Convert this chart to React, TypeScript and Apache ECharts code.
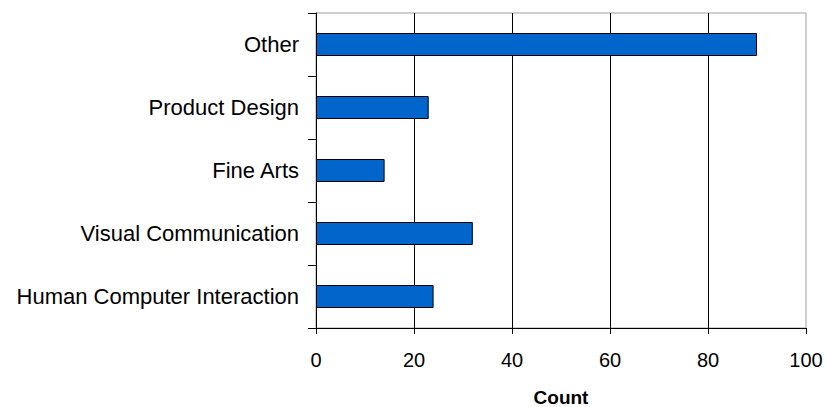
import React, { useEffect, useRef } from "react";
import * as echarts from "echarts";

const categories = [
  "Human Computer Interaction",
  "Visual Communication",
  "Fine Arts",
  "Product Design",
  "Other",
];
const counts = [24, 32, 14, 23, 90];
const xTicks = [0, 20, 40, 60, 80, 100];

export default function App() {
  const ref = useRef<HTMLDivElement>(null);
  useEffect(() => {
    if (!ref.current) return;
    const chart = echarts.init(ref.current, null, { renderer: "svg" });
    const font = "'Liberation Sans', Arial, sans-serif";
    chart.setOption({
      animation: false,
      backgroundColor: "#ffffff",
      grid: {
        left: 316,
        top: 13,
        right: 21,
        bottom: 79,
        show: true,
        borderColor: "#a0a0a0",
        borderWidth: 1,
        backgroundColor: "transparent",
        containLabel: false,
        outerBoundsMode: "none",
      },
      xAxis: {
        type: "value",
        min: xTicks[0],
        max: xTicks[xTicks.length - 1],
        interval: 20,
        name: "Count",
        nameLocation: "middle",
        nameGap: 60,
        nameTextStyle: {
          fontFamily: font,
          fontSize: 19,
          fontWeight: "bold",
          color: "#000",
        },
        axisLine: { show: true, lineStyle: { color: "#000", width: 1 } },
        axisTick: { show: true, length: 6, lineStyle: { color: "#000" } },
        axisLabel: {
          fontFamily: font,
          fontSize: 20,
          color: "#000",
          margin: 22,
        },
        splitLine: {
          show: true,
          showMinLine: false,
          showMaxLine: false,
          lineStyle: { color: "#000", width: 1 },
        },
      },
      yAxis: {
        type: "category",
        data: categories,
        axisLine: { show: true, lineStyle: { color: "#000", width: 1 } },
        axisTick: { show: true, length: 8, lineStyle: { color: "#000" } },
        axisLabel: {
          fontFamily: font,
          fontSize: 22,
          color: "#000",
          margin: 17,
        },
        splitLine: { show: false },
      },
      series: [
        {
          type: "bar",
          data: counts,
          barWidth: 23,
          itemStyle: {
            color: "#0066cc",
            borderColor: "#000",
            borderWidth: 1,
          },
        },
      ],
    });
    return () => chart.dispose();
  }, []);
  return (
    <div
      ref={ref}
      style={{ position: "fixed", left: 0, top: 0, width: 827, height: 407 }}
    />
  );
}
